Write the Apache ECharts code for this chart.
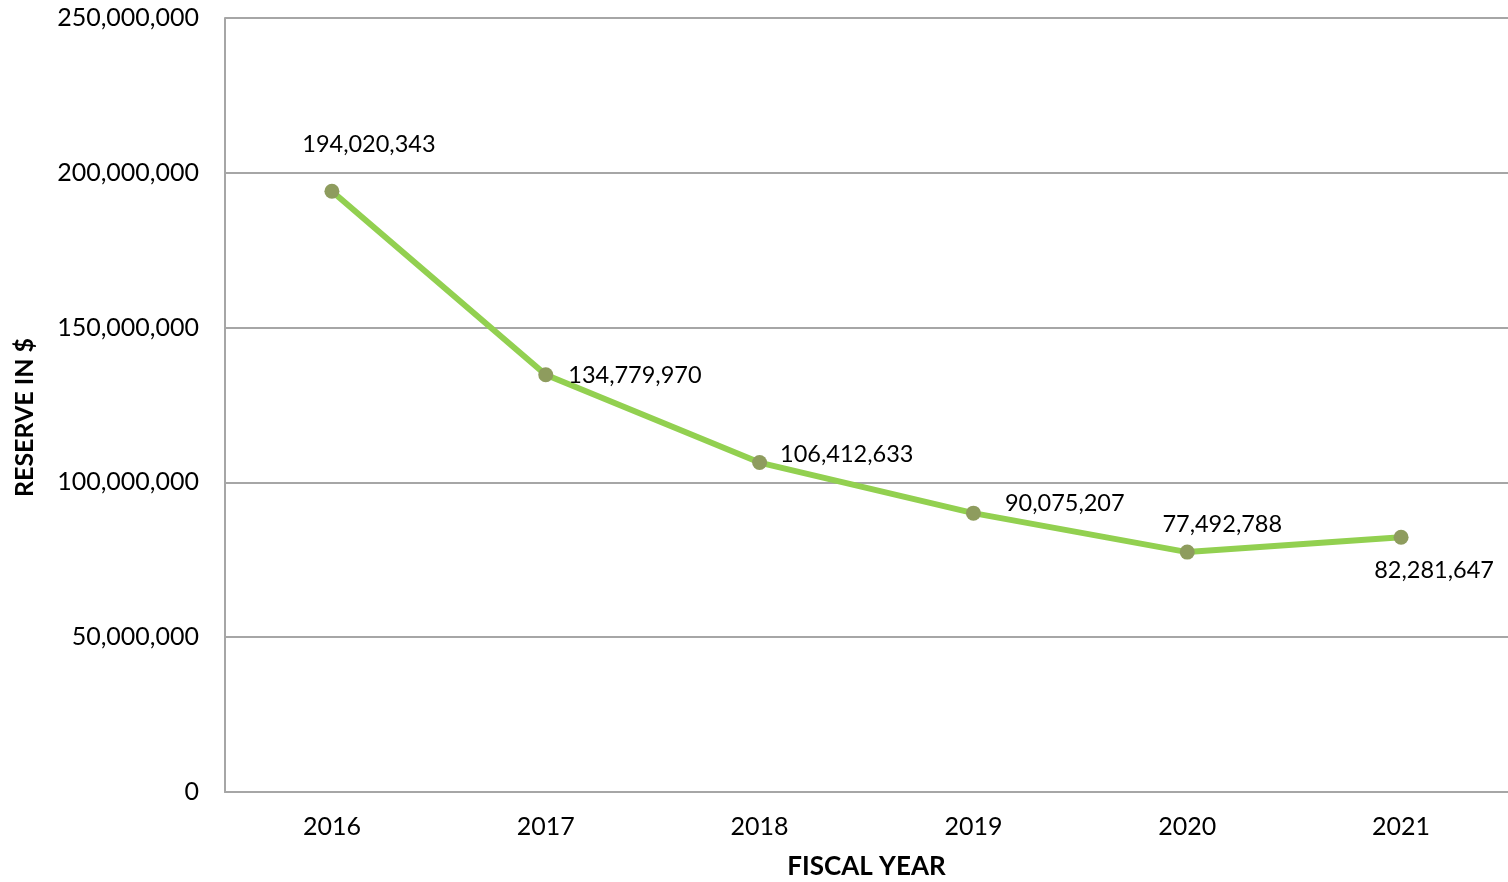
<!DOCTYPE html>
<html>
<head>
<meta charset="utf-8">
<script src="https://cdn.jsdelivr.net/npm/echarts@6/dist/echarts.min.js"></script>
<style>
  html, body { margin: 0; padding: 0; background: #fff; }
  #chart { width: 1508px; height: 882px; }
</style>
</head>
<body>
<div id="chart"></div>
<script>
// Fiscal-year reserve balances
const years = ['2016', '2017', '2018', '2019', '2020', '2021'];
const reserves = [194020343, 134779970, 106412633, 90075207, 77492788, 82281647];
const yTicks = { min: 0, max: 250000000, interval: 50000000 };

// Where each value label sits relative to its point
const labelPlacement = [
  { position: 'top', distance: 27, offset: [37, 0] },
  { position: 'right', distance: 15, offset: [0, 1] },
  { position: 'right', distance: 13, offset: [0, -8] },
  { position: 'right', distance: 24, offset: [0, -10] },
  { position: 'top', distance: 8, offset: [35, 0] },
  { position: 'bottom', distance: 14, offset: [33, 0] }
];

const FONT = 'Lato, "DejaVu Sans", sans-serif';
const fmt = v => v.toLocaleString('en-US');

const chart = echarts.init(document.getElementById('chart'));
chart.setOption({
  animation: false,
  backgroundColor: '#fff',
  grid: { left: 225, right: 0, top: 18, bottom: 90, containLabel: false, outerBoundsMode: 'none' },
  xAxis: {
    type: 'category',
    data: years,
    boundaryGap: true,
    name: 'FISCAL YEAR',
    nameLocation: 'middle',
    nameGap: 62,
    nameTextStyle: { fontFamily: FONT, fontSize: 26, fontWeight: 'bold', color: '#000' },
    axisLine: { lineStyle: { color: '#A6A6A6', width: 2 } },
    axisTick: { show: false },
    axisLabel: { fontFamily: FONT, fontSize: 25, color: '#000', margin: 22 }
  },
  yAxis: {
    type: 'value',
    min: yTicks.min,
    max: yTicks.max,
    interval: yTicks.interval,
    name: 'RESERVE IN $',
    nameLocation: 'middle',
    nameGap: 188,
    nameTextStyle: { fontFamily: FONT, fontSize: 25, fontWeight: 'bold', color: '#000', padding: [0, 25, 0, 0] },
    axisLine: { show: true, lineStyle: { color: '#A6A6A6', width: 2 } },
    axisTick: { show: false },
    splitLine: { lineStyle: { color: '#A6A6A6', width: 2 } },
    axisLabel: { fontFamily: FONT, fontSize: 25, color: '#000', margin: 26, formatter: fmt }
  },
  series: [{
    type: 'line',
    data: reserves.map((v, i) => ({
      value: v,
      label: Object.assign({ show: true }, labelPlacement[i])
    })),
    lineStyle: { color: '#92D050', width: 6 },
    itemStyle: { color: '#8E9C5E' },
    symbol: 'circle',
    symbolSize: 15,
    label: {
      show: true,
      fontFamily: FONT,
      fontSize: 23.5,
      color: '#000',
      formatter: p => fmt(p.value)
    }
  }]
});
</script>
</body>
</html>
